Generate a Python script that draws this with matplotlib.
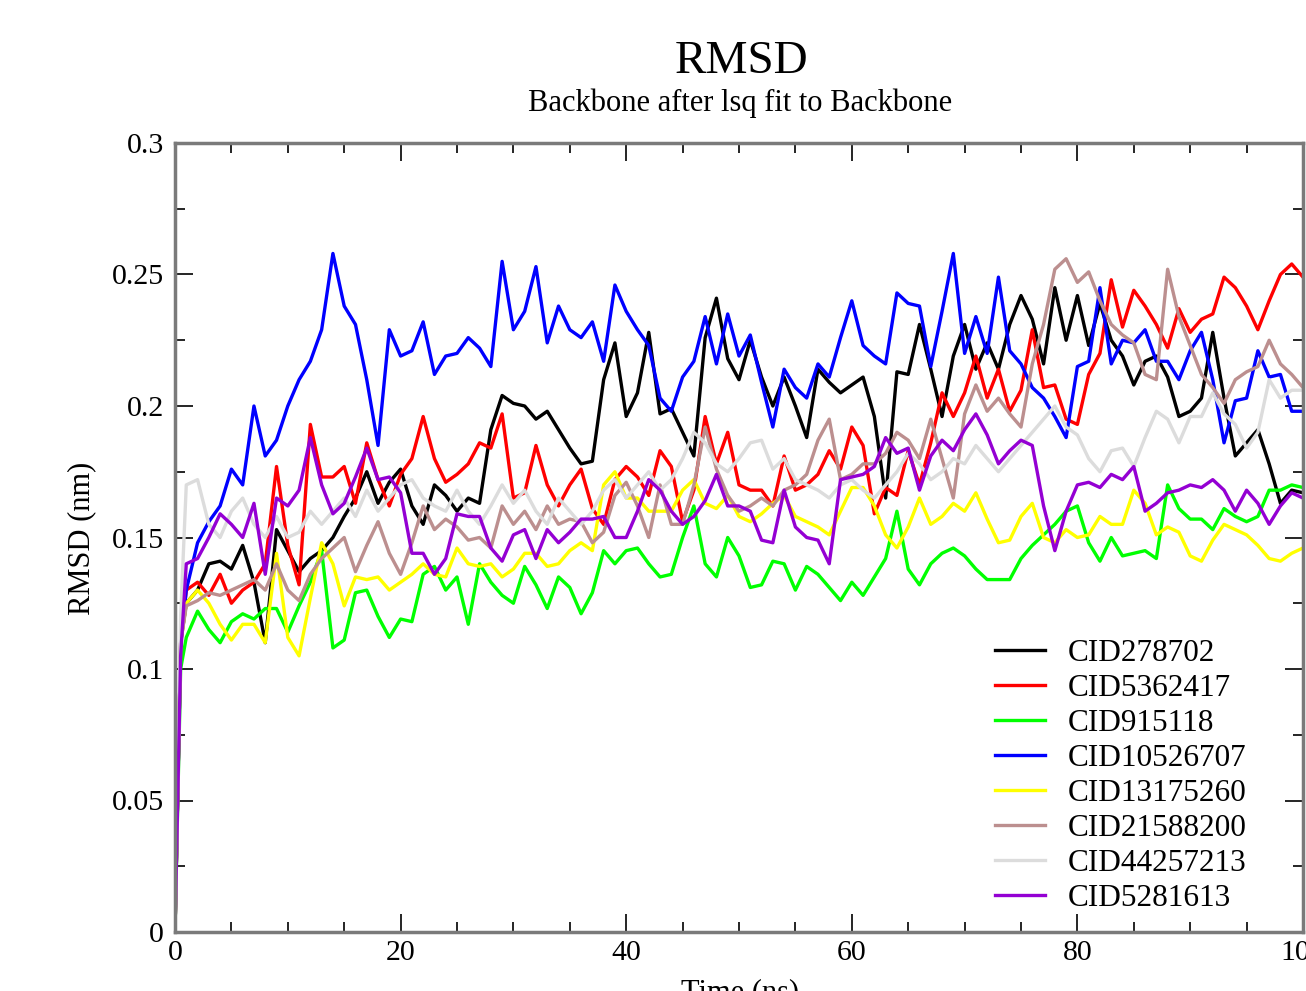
import numpy as np
import matplotlib
matplotlib.use("Agg")
import matplotlib.pyplot as plt
from matplotlib.ticker import MultipleLocator

plt.rcParams['font.family'] = ['Liberation Serif', 'DejaVu Serif']

# time axis (ns): first point, the fast rise, then every 1 ns
time_ns = [0, 0.5] + list(range(1, 101))

# RMSD values (nm)
cid278702 = [0, 0.11,
    0.125, 0.13, 0.14, 0.141, 0.138, 0.147, 0.133, 0.11, 0.153, 0.145,
    0.137, 0.142, 0.145, 0.15, 0.158, 0.165, 0.175, 0.163, 0.171, 0.176,
    0.162, 0.155, 0.17, 0.166, 0.16, 0.165, 0.163, 0.191, 0.204, 0.201,
    0.2, 0.195, 0.198, 0.191, 0.184, 0.178, 0.179, 0.21, 0.224, 0.196,
    0.205, 0.228, 0.197, 0.199, 0.19, 0.181, 0.226, 0.241, 0.218, 0.21,
    0.225, 0.211, 0.2, 0.211, 0.2, 0.188, 0.214, 0.209, 0.205, 0.208,
    0.211, 0.196, 0.165, 0.213, 0.212, 0.231, 0.214, 0.196, 0.219, 0.231,
    0.214, 0.224, 0.214, 0.231, 0.242, 0.233, 0.216, 0.245, 0.225, 0.242,
    0.223, 0.239, 0.225, 0.219, 0.208, 0.217, 0.219, 0.211, 0.196, 0.198,
    0.203, 0.228, 0.203, 0.181, 0.186, 0.191, 0.178, 0.163, 0.168, 0.167]

cid5362417 = [0, 0.11,
    0.13, 0.133, 0.128, 0.136, 0.125, 0.13, 0.133, 0.14, 0.177, 0.147,
    0.132, 0.193, 0.173, 0.173, 0.177, 0.163, 0.186, 0.172, 0.162, 0.174,
    0.18, 0.196, 0.18, 0.171, 0.174, 0.178, 0.186, 0.184, 0.197, 0.165,
    0.167, 0.185, 0.17, 0.162, 0.17, 0.176, 0.161, 0.155, 0.172, 0.177,
    0.173, 0.166, 0.183, 0.177, 0.156, 0.168, 0.196, 0.178, 0.19, 0.17,
    0.168, 0.168, 0.162, 0.181, 0.168, 0.17, 0.174, 0.183, 0.176, 0.192,
    0.185, 0.159, 0.169, 0.166, 0.183, 0.17, 0.186, 0.205, 0.196, 0.205,
    0.219, 0.203, 0.214, 0.198, 0.206, 0.229, 0.207, 0.208, 0.195, 0.193,
    0.212, 0.22, 0.248, 0.23, 0.244, 0.238, 0.231, 0.222, 0.237, 0.228,
    0.233, 0.235, 0.249, 0.245, 0.238, 0.229, 0.24, 0.25, 0.254, 0.249]

cid915118 = [0, 0.1,
    0.112, 0.122, 0.115, 0.11, 0.118, 0.121, 0.119, 0.123, 0.123, 0.114,
    0.124, 0.133, 0.145, 0.108, 0.111, 0.129, 0.13, 0.12, 0.112, 0.119,
    0.118, 0.136, 0.139, 0.13, 0.135, 0.117, 0.14, 0.133, 0.128, 0.125,
    0.139, 0.132, 0.123, 0.135, 0.131, 0.121, 0.129, 0.145, 0.14, 0.145,
    0.146, 0.14, 0.135, 0.136, 0.15, 0.162, 0.14, 0.135, 0.15, 0.143,
    0.131, 0.132, 0.141, 0.14, 0.13, 0.139, 0.136, 0.131, 0.126, 0.133,
    0.128, 0.135, 0.142, 0.16, 0.138, 0.132, 0.14, 0.144, 0.146, 0.143,
    0.138, 0.134, 0.134, 0.134, 0.142, 0.147, 0.151, 0.155, 0.16, 0.162,
    0.148, 0.141, 0.15, 0.143, 0.144, 0.145, 0.142, 0.17, 0.161, 0.157,
    0.157, 0.153, 0.161, 0.158, 0.156, 0.158, 0.168, 0.168, 0.17, 0.169]

cid10526707 = [0, 0.11,
    0.13, 0.148, 0.156, 0.162, 0.176, 0.17, 0.2, 0.181, 0.187, 0.2,
    0.21, 0.217, 0.229, 0.258, 0.238, 0.231, 0.21, 0.185, 0.229, 0.219,
    0.221, 0.232, 0.212, 0.219, 0.22, 0.226, 0.222, 0.215, 0.255, 0.229,
    0.236, 0.253, 0.224, 0.238, 0.229, 0.226, 0.232, 0.217, 0.246, 0.236,
    0.229, 0.223, 0.203, 0.198, 0.211, 0.217, 0.234, 0.216, 0.235, 0.219,
    0.227, 0.209, 0.192, 0.214, 0.207, 0.203, 0.216, 0.211, 0.226, 0.24,
    0.223, 0.219, 0.216, 0.243, 0.239, 0.238, 0.215, 0.236, 0.258, 0.22,
    0.234, 0.22, 0.249, 0.221, 0.216, 0.207, 0.203, 0.196, 0.188, 0.215,
    0.217, 0.245, 0.216, 0.225, 0.224, 0.229, 0.217, 0.217, 0.21, 0.221,
    0.228, 0.21, 0.186, 0.202, 0.203, 0.221, 0.211, 0.212, 0.198, 0.198]

cid13175260 = [0, 0.11,
    0.125, 0.13, 0.125, 0.117, 0.111, 0.117, 0.117, 0.11, 0.144, 0.112,
    0.105, 0.127, 0.148, 0.14, 0.124, 0.135, 0.134, 0.135, 0.13, 0.133,
    0.136, 0.14, 0.136, 0.135, 0.146, 0.14, 0.139, 0.14, 0.135, 0.138,
    0.144, 0.144, 0.139, 0.14, 0.145, 0.148, 0.145, 0.17, 0.175, 0.165,
    0.165, 0.16, 0.16, 0.16, 0.168, 0.172, 0.163, 0.161, 0.166, 0.158,
    0.156, 0.159, 0.163, 0.166, 0.158, 0.156, 0.154, 0.151, 0.16, 0.169,
    0.169, 0.162, 0.151, 0.146, 0.154, 0.165, 0.155, 0.158, 0.163, 0.16,
    0.167, 0.157, 0.148, 0.149, 0.158, 0.163, 0.15, 0.148, 0.153, 0.15,
    0.151, 0.158, 0.155, 0.155, 0.168, 0.163, 0.151, 0.154, 0.152, 0.143,
    0.141, 0.149, 0.155, 0.153, 0.151, 0.147, 0.142, 0.141, 0.144, 0.146]

cid21588200 = [0, 0.11,
    0.124, 0.126, 0.129, 0.128, 0.13, 0.132, 0.134, 0.13, 0.14, 0.13,
    0.126, 0.136, 0.142, 0.146, 0.15, 0.137, 0.147, 0.156, 0.144, 0.136,
    0.148, 0.162, 0.153, 0.157, 0.154, 0.149, 0.15, 0.146, 0.162, 0.155,
    0.16, 0.153, 0.162, 0.155, 0.157, 0.156, 0.148, 0.152, 0.166, 0.171,
    0.162, 0.15, 0.17, 0.155, 0.155, 0.17, 0.192, 0.176, 0.166, 0.16,
    0.162, 0.165, 0.162, 0.168, 0.17, 0.174, 0.187, 0.195, 0.172, 0.174,
    0.178, 0.178, 0.182, 0.19, 0.187, 0.18, 0.195, 0.18, 0.165, 0.197,
    0.208, 0.198, 0.203, 0.197, 0.192, 0.216, 0.231, 0.252, 0.256, 0.247,
    0.251, 0.24, 0.231, 0.227, 0.224, 0.212, 0.21, 0.252, 0.234, 0.223,
    0.212, 0.207, 0.201, 0.21, 0.213, 0.215, 0.225, 0.216, 0.212, 0.207]

cid44257213 = [0, 0.12,
    0.17, 0.172, 0.155, 0.15, 0.16, 0.165, 0.155, 0.15, 0.158, 0.15,
    0.152, 0.16, 0.155, 0.16, 0.165, 0.158, 0.168, 0.16, 0.165, 0.17,
    0.172, 0.165, 0.162, 0.16, 0.168, 0.16, 0.155, 0.162, 0.17, 0.163,
    0.168, 0.16, 0.155, 0.165, 0.16, 0.155, 0.16, 0.168, 0.172, 0.165,
    0.17, 0.175, 0.168, 0.172, 0.18, 0.19, 0.186, 0.178, 0.175, 0.18,
    0.186, 0.187, 0.176, 0.18, 0.172, 0.17, 0.168, 0.165, 0.17, 0.172,
    0.168, 0.165, 0.17, 0.175, 0.182, 0.178, 0.172, 0.175, 0.18, 0.178,
    0.185, 0.18, 0.175, 0.18, 0.185, 0.19, 0.195, 0.2, 0.192, 0.189,
    0.18, 0.175, 0.183, 0.184, 0.177, 0.188, 0.198, 0.195, 0.186, 0.196,
    0.196, 0.205, 0.197, 0.193, 0.184, 0.19, 0.21, 0.203, 0.206, 0.206]

cid5281613 = [0, 0.105,
    0.14, 0.142, 0.15, 0.159, 0.155, 0.15, 0.163, 0.136, 0.165, 0.162,
    0.168, 0.188, 0.17, 0.159, 0.163, 0.173, 0.184, 0.172, 0.173, 0.167,
    0.144, 0.144, 0.136, 0.142, 0.159, 0.158, 0.158, 0.146, 0.141, 0.151,
    0.153, 0.142, 0.153, 0.148, 0.152, 0.157, 0.157, 0.158, 0.15, 0.15,
    0.16, 0.172, 0.168, 0.16, 0.155, 0.158, 0.164, 0.174, 0.162, 0.162,
    0.16, 0.149, 0.148, 0.168, 0.154, 0.15, 0.149, 0.14, 0.172, 0.173,
    0.174, 0.177, 0.188, 0.182, 0.184, 0.168, 0.181, 0.187, 0.183, 0.191,
    0.197, 0.189, 0.178, 0.183, 0.187, 0.185, 0.162, 0.145, 0.16, 0.17,
    0.171, 0.169, 0.174, 0.172, 0.177, 0.16, 0.163, 0.167, 0.168, 0.17,
    0.169, 0.172, 0.168, 0.16, 0.168, 0.163, 0.155, 0.162, 0.167, 0.165]

labels = ['CID278702', 'CID5362417', 'CID915118', 'CID10526707',
          'CID13175260', 'CID21588200', 'CID44257213', 'CID5281613']
series = [cid278702, cid5362417, cid915118, cid10526707,
          cid13175260, cid21588200, cid44257213, cid5281613]
# grace default set colours
colors = ['#000000', '#ff0000', '#00ff00', '#0000ff',
          '#ffff00', '#bc8f8f', '#dcdcdc', '#9400d3']

fig = plt.figure(figsize=(13.06, 9.91), dpi=100)
ax = fig.add_axes([175/1306, 59/991, 1128/1306, 789/991])

for lab, vals, col in zip(labels, series, colors):
    ax.plot(time_ns, vals, color=col, lw=2.4, label=lab)

ax.set_xlim(0, 100)
ax.set_ylim(0, 0.3)
ax.xaxis.set_major_locator(MultipleLocator(20))
ax.xaxis.set_minor_locator(MultipleLocator(5))
ax.yaxis.set_major_locator(MultipleLocator(0.05))
ax.yaxis.set_minor_locator(MultipleLocator(0.025))
ax.yaxis.set_major_formatter(plt.FuncFormatter(lambda v, p: '%g' % round(v, 3)))
ax.tick_params(which='both', direction='in', top=True, right=True, colors='black', width=1.2)
ax.tick_params(which='major', length=13, labelsize=21.5)
ax.tick_params(which='minor', length=7)
ax.tick_params(axis='x', pad=6)
ax.tick_params(axis='y', pad=8)
for sp in ax.spines.values():
    sp.set_color('#7a7a7a')
    sp.set_linewidth(2.5)

fig.text(741/1306, 1 - 62/991, 'RMSD', ha='center', va='center', fontsize=34)
fig.text(740/1306, 1 - 103/991, 'Backbone after lsq fit to Backbone',
         ha='center', va='center', fontsize=22)
fig.text(82/1306, 1 - 538/991, 'RMSD (nm)', rotation=90, ha='center', va='center', fontsize=22)
fig.text(740/1306, 1 - 993/991, 'Time (ns)', ha='center', va='center', fontsize=22)

ax.legend(loc='upper left', bbox_to_anchor=(995/1306, 1 - 639/991),
          bbox_transform=fig.transFigure, frameon=False, fontsize=22.5,
          handlelength=1.6, handletextpad=0.72, labelspacing=0.19,
          borderpad=0, borderaxespad=0)

fig.savefig('out.png', dpi=100)
